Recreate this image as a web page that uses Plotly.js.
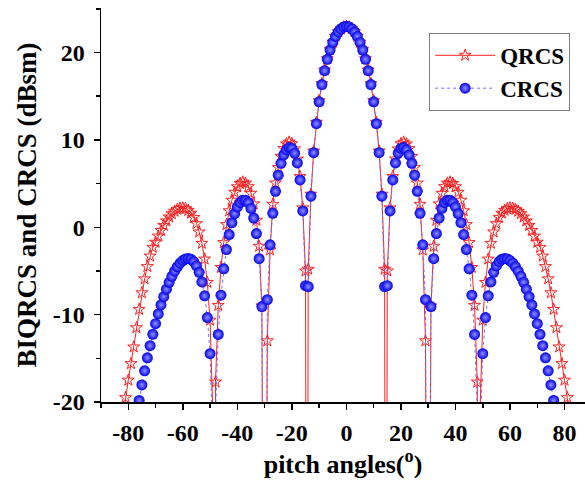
<!DOCTYPE html>
<html>
<head>
<meta charset="utf-8">
<script src="https://cdn.plot.ly/plotly-3.0.1.min.js"></script>
<style>
html,body{margin:0;padding:0;background:#fff;}
#chart{width:585px;height:480px;}
</style>
</head>
<body>
<div id="chart"></div>
<script>
// pitch angles (degrees) and values (dBsm)
const qrcsAngles = [-82,-81,-80,-79,-78,-77,-76,-75,-74,-73,-72,-71,-70,-69,-68,-67,-66,-65,-64,-63,-62,-61,-60,-59,-58,-57,-56,-55,-54,-53,-52,-51,-50,-49,-48.59,-48,-47,-46,-45,-44,-43,-42,-41,-40,-39,-38,-37,-36,-35,-34,-33,-32,-31,-30,-29,-28,-27,-26,-25,-24,-23,-22,-21,-20,-19,-18,-17,-16,-15,-14.48,-14,-13,-12,-11,-10,-9,-8,-7,-6,-5,-4,-3,-2,-1,0,1,2,3,4,5,6,7,8,9,10,11,12,13,14,14.48,15,16,17,18,19,20,21,22,23,24,25,26,27,28,29,30,31,32,33,34,35,36,37,38,39,40,41,42,43,44,45,46,47,48,48.59,49,50,51,52,53,54,55,56,57,58,59,60,61,62,63,64,65,66,67,68,69,70,71,72,73,74,75,76,77,78,79,80,81,82];
const qrcsValues = [-21.8,-19.5,-17.5,-15.6,-13.7,-11.5,-9.4,-7.5,-5.9,-4.5,-3.3,-2.3,-1.71,-1.01,-0.36,0.22,0.73,1.18,1.55,1.84,2.05,2.18,2.21,2.14,1.94,1.61,1.12,0.42,-0.54,-1.84,-3.64,-6.31,-10.63,-21.10,-80,-17.72,-8.94,-4.60,-1.75,0.31,1.89,3.10,4.00,4.64,5.02,5.17,5.05,4.65,3.89,2.68,0.81,-2.17,-9.0,-80,-13.0,-2.6,2.63,5.07,6.84,8.12,9.01,9.54,9.74,9.57,8.97,7.81,5.81,2.22,-5.0,-80,-4.8,3.79,8.73,12.02,14.49,16.44,18.00,19.29,20.34,21.19,21.86,22.37,22.72,22.93,23.00,22.93,22.72,22.37,21.86,21.19,20.34,19.29,18.00,16.44,14.49,12.02,8.73,3.79,-4.8,-80,-5.0,2.22,5.81,7.81,8.97,9.57,9.74,9.54,9.01,8.12,6.84,5.07,2.63,-2.6,-13.0,-80,-9.0,-2.17,0.81,2.68,3.89,4.65,5.05,5.17,5.02,4.64,4.00,3.10,1.89,0.31,-1.75,-4.60,-8.94,-17.72,-80,-21.10,-10.63,-6.31,-3.64,-1.84,-0.54,0.42,1.12,1.61,1.94,2.14,2.21,2.18,2.05,1.84,1.55,1.18,0.73,0.22,-0.36,-1.01,-1.71,-2.3,-3.3,-4.5,-5.9,-7.5,-9.4,-11.5,-13.7,-15.6,-17.5,-19.5,-21.8];

const crcsAngles = [-77,-76,-75,-74,-73,-72,-71,-70,-69,-68,-67,-66,-65,-64,-63,-62,-61,-60,-59,-58,-57,-56,-55,-54,-53,-52,-51,-50,-49,-48.59,-48,-47,-46,-45,-44,-43,-42,-41,-40,-39,-38,-37,-36,-35,-34,-33,-32,-31,-30,-29,-28,-27,-26,-25,-24,-23,-22,-21,-20,-19,-18,-17,-16,-15,-14,-13,-12,-11,-10,-9,-8,-7,-6,-5,-4,-3,-2,-1,0,1,2,3,4,5,6,7,8,9,10,11,12,13,14,15,16,17,18,19,20,21,22,23,24,25,26,27,28,29,30,31,32,33,34,35,36,37,38,39,40,41,42,43,44,45,46,47,48,48.59,49,50,51,52,53,54,55,56,57,58,59,60,61,62,63,64,65,66,67,68,69,70,71,72,73,74,75,76,77];
const crcsValues = [-21.76,-19.83,-18.05,-16.43,-14.94,-13.55,-12.25,-11.03,-9.92,-8.89,-7.94,-7.08,-6.30,-5.61,-5.02,-4.52,-4.11,-3.81,-3.62,-3.58,-3.67,-3.93,-4.41,-5.16,-6.25,-7.85,-10.33,-14.47,-24.76,-80,-21.21,-12.26,-7.77,-4.76,-2.55,-0.83,0.52,1.56,2.33,2.83,3.10,3.10,2.81,2.16,1.05,-0.72,-3.60,-9.08,-80,-8.29,-2.01,1.60,4.12,5.96,7.32,8.28,8.87,9.13,9.02,8.48,7.37,5.42,1.87,-6.68,-6.80,3.56,8.54,11.86,14.36,16.33,17.92,19.22,20.29,21.16,21.84,22.36,22.71,22.93,23.00,22.93,22.71,22.36,21.84,21.16,20.29,19.22,17.92,16.33,14.36,11.86,8.54,3.56,-6.80,-6.68,1.87,5.42,7.37,8.48,9.02,9.13,8.87,8.28,7.32,5.96,4.12,1.60,-2.01,-8.29,-80,-9.08,-3.60,-0.72,1.05,2.16,2.81,3.10,3.10,2.83,2.33,1.56,0.52,-0.83,-2.55,-4.76,-7.77,-12.26,-21.21,-80,-24.76,-14.47,-10.33,-7.85,-6.25,-5.16,-4.41,-3.93,-3.67,-3.58,-3.62,-3.81,-4.11,-4.52,-5.02,-5.61,-6.30,-7.08,-7.94,-8.89,-9.92,-11.03,-12.25,-13.55,-14.94,-16.43,-18.05,-19.83,-21.76];

const xTickVals = [-80,-60,-40,-20,0,20,40,60,80];
const xTickText = ['-80','-60','-40','-20','0','20','40','60','80'];
const yTickVals = [-20,-10,0,10,20];
const yTickText = ['-20','-10','0','10','20'];

const FONT = 'Liberation Serif, Times New Roman, serif';

const traces = [
  {
    x: qrcsAngles, y: qrcsValues, name: 'QRCS', type: 'scatter', mode: 'lines+markers',
    line: {color: '#ff2020', width: 1},
    marker: {symbol: 'star-open', size: 9, color: '#ff2020', line: {width: 1, color: '#ff2020'}},
    cliponaxis: true
  },
  {
    x: crcsAngles, y: crcsValues, name: 'CRCS', type: 'scatter', mode: 'lines+markers',
    line: {color: '#7070ff', width: 1, dash: 'dot'},
    marker: {symbol: 'circle', size: 11, color: '#0000ee',
             gradient: {type: 'radial', color: '#9090ff'}, line: {width: 0}},
    cliponaxis: true
  }
];

const layout = {
  width: 585, height: 480,
  margin: {l: 101, r: 0, t: 8, b: 78},
  paper_bgcolor: '#ffffff', plot_bgcolor: '#ffffff',
  font: {family: FONT, color: '#000', size: 20, weight: 'bold'},
  showlegend: true,
  legend: {
    x: 0.678, y: 0.937, xanchor: 'left', yanchor: 'top',
    bordercolor: '#808080', borderwidth: 1, bgcolor: '#ffffff',
    font: {family: FONT, size: 23, weight: 'bold', color: '#000'},
    itemwidth: 60, tracegroupgap: 0
  },
  xaxis: {
    range: [-90, 87.5], showgrid: false, zeroline: false,
    showline: true, linecolor: '#000', linewidth: 1.5,
    ticks: 'outside', ticklen: 6, tickwidth: 1.5, tickcolor: '#000',
    tickvals: xTickVals, ticktext: xTickText,
    tickfont: {family: FONT, size: 24, weight: 'bold'},
    ticklabelstandoff: 3,
    minor: {dtick: 10, tick0: 0, ticks: 'outside', ticklen: 4, tickwidth: 1.5, tickcolor: '#000', showgrid: false},
    title: {text: 'pitch angles(<sup>o</sup>)', font: {family: FONT, size: 26, weight: 'bold'}, standoff: 8}
  },
  yaxis: {
    range: [-20, 25.1], showgrid: false, zeroline: false,
    showline: true, linecolor: '#000', linewidth: 1.5,
    ticks: 'outside', ticklen: 6, tickwidth: 1.5, tickcolor: '#000',
    tickvals: yTickVals, ticktext: yTickText,
    tickfont: {family: FONT, size: 24, weight: 'bold'},
    ticklabelstandoff: 4,
    minor: {dtick: 5, tick0: 0, ticks: 'outside', ticklen: 4, tickwidth: 1.5, tickcolor: '#000', showgrid: false},
    title: {text: 'BIQRCS and CRCS (dBsm)', font: {family: FONT, size: 27, weight: 'bold'}, standoff: 8}
  }
};

Plotly.newPlot('chart', traces, layout, {displayModeBar: false, staticPlot: true});
</script>
</body>
</html>
